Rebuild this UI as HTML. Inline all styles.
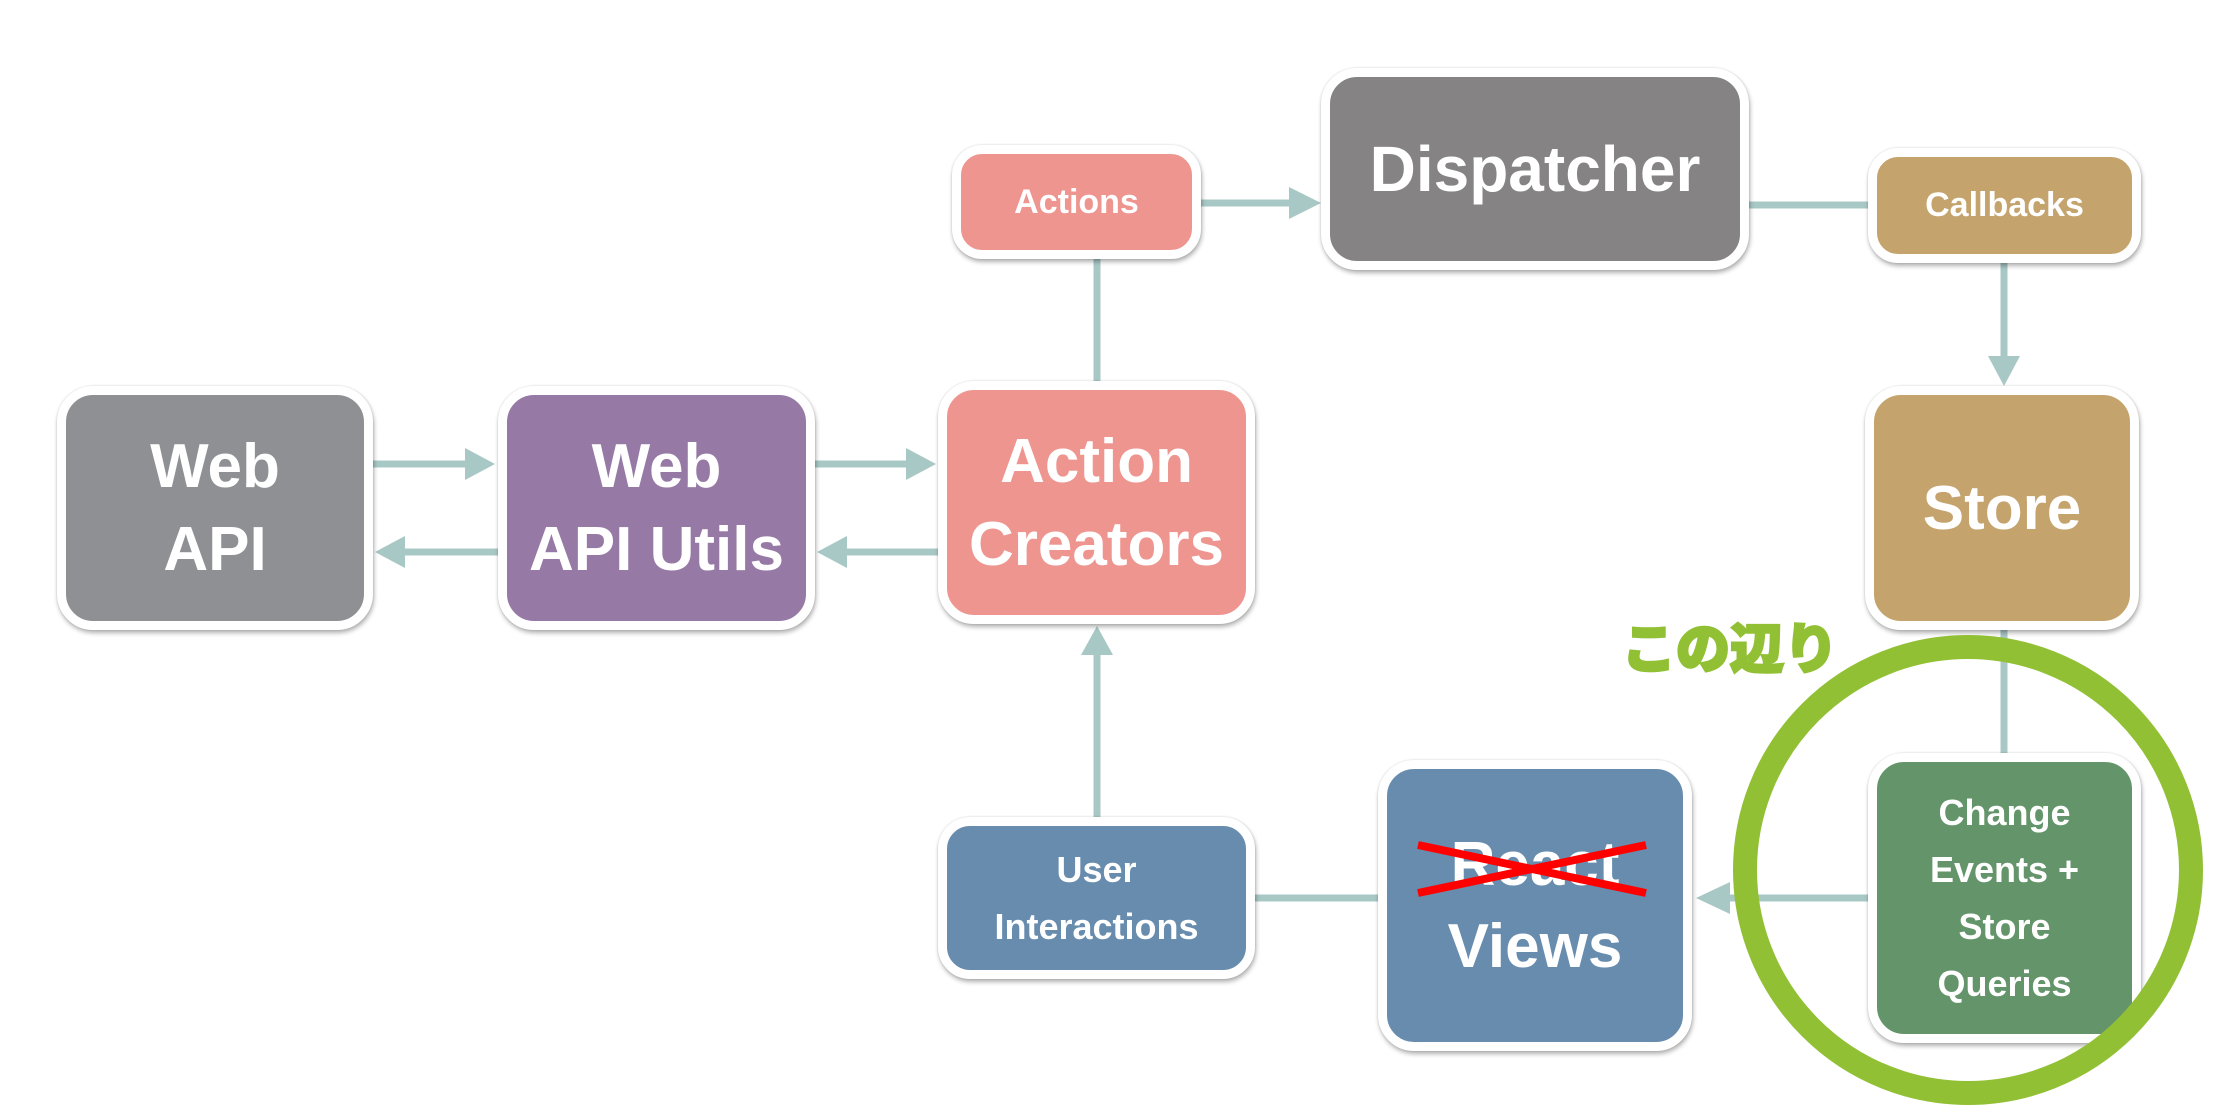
<!DOCTYPE html>
<html><head><meta charset="utf-8"><style>
body{margin:0;width:2232px;height:1114px;background:#fff;position:relative;overflow:hidden;font-family:"Liberation Sans","Noto Sans CJK JP",sans-serif}
.b{position:absolute;box-sizing:border-box;border:9px solid #fff;border-radius:36px;box-shadow:1px 3px 5px rgba(0,0,0,0.3),0 0 2px rgba(0,0,0,0.15);color:#fff;font-weight:bold;display:flex;align-items:center;justify-content:center;text-align:center}
svg{position:absolute;left:0;top:0}
</style></head><body>
<svg width="2232" height="1114">
<g stroke="#a8c8c6" stroke-width="7" fill="none">
<line x1="373" y1="464" x2="470" y2="464"/>
<line x1="400" y1="552" x2="498" y2="552"/>
<line x1="815" y1="464" x2="910" y2="464"/>
<line x1="842" y1="552" x2="938" y2="552"/>
<line x1="1097" y1="259" x2="1097" y2="381"/>
<line x1="1097" y1="650" x2="1097" y2="817"/>
<line x1="1201" y1="203" x2="1295" y2="203"/>
<line x1="1749" y1="205" x2="1868" y2="205"/>
<line x1="2004" y1="263" x2="2004" y2="360"/>
<line x1="2004" y1="630" x2="2004" y2="753"/>
<line x1="1725" y1="898" x2="1868" y2="898"/>
<line x1="1255" y1="898" x2="1378" y2="898"/>
</g>
<g fill="#a8c8c6">
<polygon points="495,464 465,448 465,480"/>
<polygon points="375,552 405,536 405,568"/>
<polygon points="936,464 906,448 906,480"/>
<polygon points="817,552 847,536 847,568"/>
<polygon points="1097,626 1081,655 1113,655"/>
<polygon points="1321,203 1289,187 1289,219"/>
<polygon points="2004,386 1988,356 2020,356"/>
<polygon points="1696,898 1730,882 1730,914"/>
</g>
</svg>
<div class="b" style="left:57px;top:386px;width:316px;height:244px;background:#8e9094;font-size:62px;line-height:83px">Web<br>API</div>
<div class="b" style="left:498px;top:386px;width:317px;height:244px;background:#967aa5;font-size:62px;line-height:83px">Web<br>API Utils</div>
<div class="b" style="left:938px;top:381px;width:317px;height:243px;background:#ef9590;font-size:62px;line-height:83px">Action<br>Creators</div>
<div class="b" style="left:952px;top:145px;width:249px;height:114px;background:#ef9590;font-size:34px;border-radius:30px">Actions</div>
<div class="b" style="left:1321px;top:68px;width:428px;height:202px;background:#858384;font-size:64px">Dispatcher</div>
<div class="b" style="left:1868px;top:148px;width:273px;height:115px;background:#c4a36c;font-size:34px;border-radius:30px">Callbacks</div>
<div class="b" style="left:1865px;top:386px;width:274px;height:244px;background:#c4a36c;font-size:62px">Store</div>
<div class="b" style="left:1868px;top:753px;width:273px;height:290px;background:#64956a;font-size:36px;line-height:57px">Change<br>Events +<br>Store<br>Queries</div>
<div class="b" style="left:1378px;top:760px;width:314px;height:291px;background:#688cae;font-size:62px;line-height:82px">React<br>Views</div>
<div class="b" style="left:938px;top:817px;width:317px;height:162px;background:#688cae;font-size:36px;line-height:57px;border-radius:32px">User<br>Interactions</div>
<svg width="2232" height="1114">
<g stroke="#ff0000" stroke-width="8">
<line x1="1418" y1="845" x2="1646" y2="893"/>
<line x1="1418" y1="893" x2="1646" y2="845"/>
</g>
<circle cx="1968" cy="870" r="223" fill="none" stroke="#92c034" stroke-width="24"/>
<text x="1622" y="668" font-family="'Noto Sans CJK JP',sans-serif" font-weight="900" font-size="54" fill="#92c034" stroke="#92c034" stroke-width="2.5">この辺り</text>
</svg>
</body></html>
